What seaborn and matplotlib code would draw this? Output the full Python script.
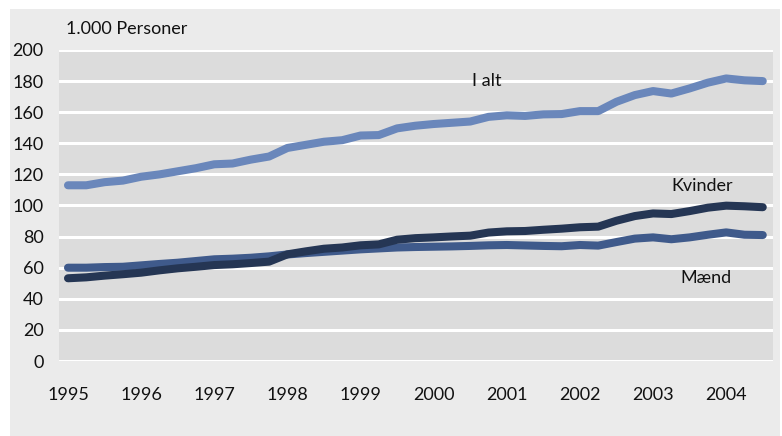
import numpy as np
import pandas as pd
import matplotlib
matplotlib.use("Agg")
import matplotlib.pyplot as plt
import seaborn as sns
from matplotlib.patches import Rectangle

# Quarterly observations, 1995 Q1 - 2004 Q3 (1.000 personer)
quarters = np.arange(1995, 2004.75, 0.25)
i_alt = [113, 113, 115, 116, 118.5, 120, 122, 124, 126.5, 127, 129.5, 131.5,
         137, 139, 141, 142, 145, 145.3, 149.6, 151.3, 152.4, 153.2, 154, 157,
         158, 157.6, 158.6, 158.8, 160.7, 160.7, 166.7, 171, 173.6, 172, 175.3,
         179, 181.7, 180.5, 180]
kvinder = [53.2, 53.8, 54.9, 55.8, 56.8, 58.3, 59.6, 60.6, 61.7, 62.2, 63, 63.9,
           68.6, 70.5, 72.2, 73, 74.4, 75, 78, 79, 79.5, 80.1, 80.6, 82.6,
           83.4, 83.6, 84.4, 85.1, 86, 86.4, 90.2, 93.2, 94.9, 94.5, 96.4,
           98.6, 99.9, 99.5, 98.9]
maend = [60, 60, 60.4, 60.6, 61.5, 62.4, 63.2, 64.3, 65.4, 65.8, 66.4, 67.3,
         68.5, 69.4, 70.2, 71, 71.8, 72.4, 73, 73.3, 73.5, 73.7, 74, 74.4,
         74.6, 74.3, 74, 73.8, 74.6, 74.2, 76.5, 78.7, 79.5, 78.3, 79.5,
         81.2, 82.7, 81.2, 81]
year_ticks = list(range(1995, 2005))
y_ticks = list(range(0, 201, 20))

df = pd.DataFrame({"kvartal": quarters, "I alt": i_alt,
                   "Kvinder": kvinder, "Mænd": maend})

sns.set_theme(style="white")
plt.rcParams["font.family"] = ["Lato", "DejaVu Sans"]

fig = plt.figure(figsize=(7.82, 4.36), dpi=100, facecolor="white")
# grey panel behind the chart
fig.patches.append(Rectangle((10 / 782, 0), 770 / 782, 427 / 436,
                             transform=fig.transFigure, facecolor="#ebebeb",
                             edgecolor="none", zorder=-5))
ax = fig.add_axes([59 / 782, 75 / 436, 714 / 782, 311 / 436])
ax.set_facecolor("#dcdcdc")

colors = {"I alt": "#6a87bb", "Mænd": "#3f5a8b", "Kvinder": "#253654"}
for name in ["I alt", "Mænd", "Kvinder"]:
    sns.lineplot(data=df, x="kvartal", y=name, ax=ax, color=colors[name],
                 linewidth=5.8, solid_capstyle="round", zorder=3)

ax.set_ylim(0, 200)
ax.set_xlim(1994.877, 2004.64)
ax.set_yticks(y_ticks)
ax.set_xticks(year_ticks)
ax.set_xticklabels([str(y) for y in year_ticks])
ax.grid(axis="y", color="white", linewidth=2.2, zorder=1)
ax.grid(axis="x", visible=False)
ax.set_axisbelow(True)
for s in ax.spines.values():
    s.set_visible(False)
ax.tick_params(axis="both", length=0, labelsize=13, colors="#111111")
ax.tick_params(axis="y", pad=11)
ax.tick_params(axis="x", pad=19)
ax.set_xlabel("")
ax.set_ylabel("")

lbl = dict(fontsize=13, color="#111111", va="center", ha="left")
fig.text(66 / 782, 1 - 29 / 436, "1.000 Personer", **lbl)
fig.text(472 / 782, 1 - 81 / 436, "I alt", **lbl)
fig.text(671 / 782, 1 - 186 / 436, "Kvinder", **lbl)
fig.text(680 / 782, 1 - 278 / 436, "Mænd", **lbl)

fig.savefig("out.png", dpi=100, facecolor="white")
